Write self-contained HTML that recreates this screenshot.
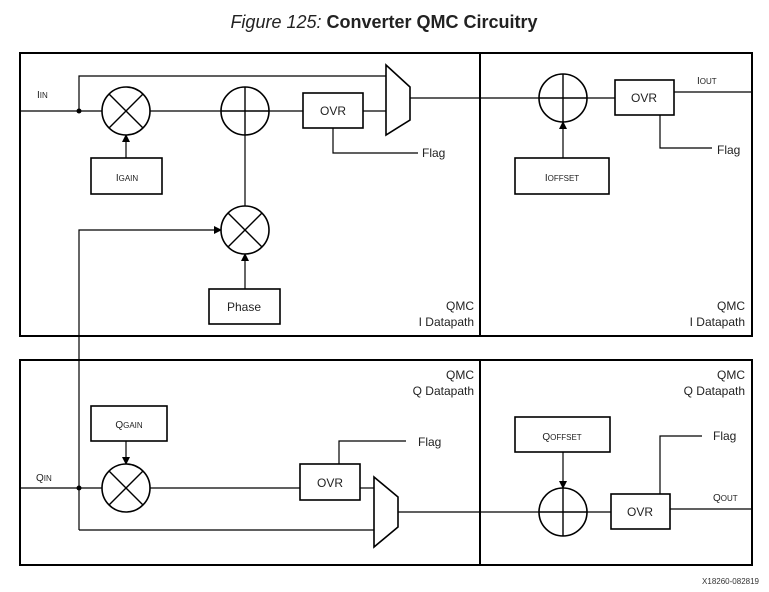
<!DOCTYPE html>
<html><head><meta charset="utf-8"><style>
body{margin:0;background:#fff;width:769px;height:592px;overflow:hidden}
svg{display:block;font-family:"Liberation Sans",sans-serif}
</style></head><body>
<svg width="769" height="592" viewBox="0 0 769 592" xmlns="http://www.w3.org/2000/svg">
<defs><marker id="a" markerWidth="8" markerHeight="8" refX="7" refY="4" orient="auto" markerUnits="userSpaceOnUse"><path d="M0,0 L8,4 L0,8 z" fill="#000"/></marker></defs>
<text x="384" y="28" text-anchor="middle" font-size="18" fill="#222"><tspan font-style="italic">Figure 125:</tspan><tspan font-weight="bold"> Converter QMC Circuitry</tspan></text>
<g fill="none" stroke="#000" stroke-width="2">
<rect x="20" y="53" width="460" height="283"/><rect x="480" y="53" width="272" height="283"/>
<rect x="20" y="360" width="460" height="205"/><rect x="480" y="360" width="272" height="205"/>
</g>
<g fill="none" stroke="#000" stroke-width="1.2">
<!-- top I -->
<line x1="20" y1="111" x2="102" y2="111"/><line x1="150" y1="111" x2="303" y2="111"/><line x1="363" y1="111" x2="386" y2="111"/>
<polyline points="79,111 79,76 386,76"/>
<line x1="410" y1="98" x2="539" y2="98"/><line x1="587" y1="98" x2="615" y2="98"/>
<line x1="674" y1="92" x2="752" y2="92"/>
<polyline points="333,128 333,153 418,153"/>
<polyline points="660,115 660,148 712,148"/>
<line x1="126" y1="158" x2="126" y2="135" marker-end="url(#a)"/>
<line x1="563" y1="158" x2="563" y2="122" marker-end="url(#a)"/>
<line x1="245" y1="135" x2="245" y2="206"/>
<line x1="245" y1="289" x2="245" y2="254" marker-end="url(#a)"/>
<polyline points="79,530 79,230 221,230" marker-end="url(#a)"/>
<!-- bottom Q -->
<line x1="20" y1="488" x2="102" y2="488"/><line x1="150" y1="488" x2="300" y2="488"/><line x1="360" y1="488" x2="374" y2="488"/>
<line x1="79" y1="530" x2="374" y2="530"/>
<line x1="398" y1="512" x2="539" y2="512"/><line x1="587" y1="512" x2="611" y2="512"/>
<line x1="670" y1="509" x2="752" y2="509"/>
<polyline points="339,464 339,441 406,441"/>
<polyline points="660,494 660,436 702,436"/>
<line x1="126" y1="441" x2="126" y2="464" marker-end="url(#a)"/>
<line x1="563" y1="452" x2="563" y2="488" marker-end="url(#a)"/>
</g>
<g fill="#fff" stroke="#000" stroke-width="1.6">
<circle cx="126" cy="111" r="24"/><circle cx="245" cy="111" r="24"/><circle cx="245" cy="230" r="24"/><circle cx="563" cy="98" r="24"/>
<circle cx="126" cy="488" r="24"/><circle cx="563" cy="512" r="24"/>
<rect x="303" y="93" width="60" height="35"/><rect x="91" y="158" width="71" height="36"/><rect x="209" y="289" width="71" height="35"/>
<rect x="615" y="80" width="59" height="35"/><rect x="515" y="158" width="94" height="36"/>
<rect x="91" y="406" width="76" height="35"/><rect x="300" y="464" width="60" height="36"/>
<rect x="611" y="494" width="59" height="35"/><rect x="515" y="417" width="95" height="35"/>
<polygon points="386,65 410,87 410,120 386,135"/><polygon points="374,477 398,497 398,527 374,547"/>
</g>
<g stroke="#000" stroke-width="1.4">
<line x1="109" y1="94" x2="143" y2="128"/><line x1="143" y1="94" x2="109" y2="128"/>
<line x1="228" y1="213" x2="262" y2="247"/><line x1="262" y1="213" x2="228" y2="247"/>
<line x1="109" y1="471" x2="143" y2="505"/><line x1="143" y1="471" x2="109" y2="505"/>
<line x1="221" y1="111" x2="269" y2="111"/><line x1="245" y1="87" x2="245" y2="135"/>
<line x1="539" y1="98" x2="587" y2="98"/><line x1="563" y1="74" x2="563" y2="122"/>
<line x1="539" y1="512" x2="587" y2="512"/><line x1="563" y1="488" x2="563" y2="536"/>
</g>
<circle cx="79" cy="111" r="2.5"/><circle cx="79" cy="488" r="2.5"/>
<g font-size="12" fill="#222">
<text x="333" y="115" text-anchor="middle">OVR</text><text x="330" y="487" text-anchor="middle">OVR</text>
<text x="644" y="102" text-anchor="middle">OVR</text><text x="640" y="516" text-anchor="middle">OVR</text>
<text x="244" y="311" text-anchor="middle">Phase</text>
<text x="422" y="157">Flag</text><text x="717" y="154">Flag</text><text x="418" y="446">Flag</text><text x="713" y="440">Flag</text>
<text x="474" y="310" text-anchor="end">QMC</text><text x="474" y="326" text-anchor="end">I Datapath</text>
<text x="745" y="310" text-anchor="end">QMC</text><text x="745" y="326" text-anchor="end">I Datapath</text>
<text x="474" y="379" text-anchor="end">QMC</text><text x="474" y="395" text-anchor="end">Q Datapath</text>
<text x="745" y="379" text-anchor="end">QMC</text><text x="745" y="395" text-anchor="end">Q Datapath</text>
</g>
<g font-size="10" fill="#222">
<text x="37" y="98">I<tspan font-size="8">IN</tspan></text>
<text x="36" y="481">Q<tspan font-size="8">IN</tspan></text>
<text x="127" y="181" text-anchor="middle">I<tspan font-size="8">GAIN</tspan></text>
<text x="129" y="428" text-anchor="middle">Q<tspan font-size="8">GAIN</tspan></text>
<text x="562" y="181" text-anchor="middle">I<tspan font-size="8">OFFSET</tspan></text>
<text x="562" y="440" text-anchor="middle">Q<tspan font-size="8">OFFSET</tspan></text>
<text x="697" y="84">I<tspan font-size="8">OUT</tspan></text>
<text x="713" y="501">Q<tspan font-size="8">OUT</tspan></text>
</g>
<text x="759" y="584" text-anchor="end" font-size="8" fill="#333">X18260-082819</text>
</svg>
</body></html>
